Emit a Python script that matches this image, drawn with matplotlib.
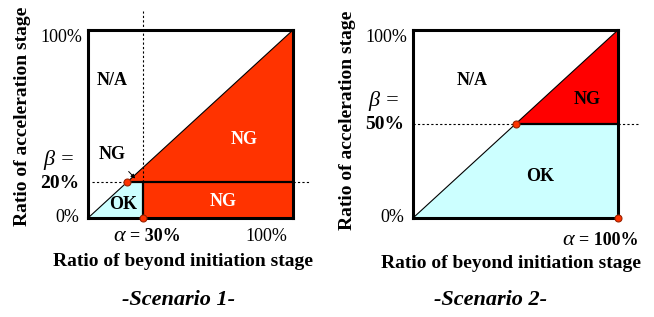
import matplotlib.pyplot as plt
from matplotlib.patches import Polygon

# values
scenarios = ["-Scenario 1-", "-Scenario 2-"]
alpha_vals = [0.27, 1.0]          # where alpha sits on the x axis
beta_vals = [0.19, 0.5]           # where beta sits on the y axis
alpha_labels = ["30%", "100%"]
beta_labels = ["20%", "50%"]
ng_colors = ["#ff3300", "#ff0000"]
ok_color = "#ccffff"

plt.rcParams['font.family'] = ['Liberation Serif', 'DejaVu Serif']

fig = plt.figure(figsize=(6.54, 3.17), dpi=100)
W, H = 654, 317
boxes = [(88, 30, 293, 218), (413, 30, 618, 218)]
ylab_pos = [(23, 116), (347, 120)]
xlab_pos = [(183, 262), (511, 263)]
title_pos = [(179, 300), (490, 300)]

bold = dict(fontweight='bold')
dot = (0, (2, 2))

for i, (x0, y0, x1, y1) in enumerate(boxes):
    ax = fig.add_axes([x0 / W, 1 - y1 / H, (x1 - x0) / W, (y1 - y0) / H])
    ax.set_xlim(0, 1)
    ax.set_ylim(0, 1)
    ax.set_xticks([])
    ax.set_yticks([])
    for s in ax.spines.values():
        s.set_linewidth(2.2)
        s.set_zorder(5)
    a = alpha_vals[i]
    b = beta_vals[i]

    # regions
    ax.add_patch(Polygon([(0, 0), (a, 0), (a, b), (b, b)], closed=True,
                         facecolor=ok_color, edgecolor='none', zorder=1))
    if a < 1:
        ng_pts = [(a, 0), (1, 0), (1, 1), (b, b), (a, b)]
    else:
        ng_pts = [(b, b), (1, 1), (1, b)]
    ax.add_patch(Polygon(ng_pts, closed=True, facecolor=ng_colors[i],
                         edgecolor='none', zorder=1))

    # diagonal
    ax.plot([0, 1], [0, 1], color='black', lw=0.8, zorder=3)

    # beta line
    ax.plot([0.02 if i == 0 else 0, b], [b, b], color='black', lw=0.8,
            linestyle=dot, zorder=3, clip_on=False)
    ax.plot([b, 1], [b, b], color='black', lw=1.6, zorder=3)
    ax.plot([1, 1.1 if i == 1 else 1.08], [b, b], color='black', lw=0.8,
            linestyle=dot, zorder=3, clip_on=False)

    # alpha line
    if a < 1:
        ax.plot([a, a], [b, 1.1], color='black', lw=0.8, linestyle=dot,
                zorder=3, clip_on=False)
        ax.plot([a, a], [0, b], color='black', lw=1.6, zorder=3)

    # points
    ax.plot([b, a], [b, 0], 'o', ms=5, mfc='#ff3300', mec='#992200',
            mew=0.8, zorder=6, clip_on=False)

    # axis texts
    fig.text(ylab_pos[i][0] / W, 1 - ylab_pos[i][1] / H,
             "Ratio of acceleration stage", fontsize=14, rotation=90,
             ha='center', va='center', **bold)
    fig.text(xlab_pos[i][0] / W, 1 - xlab_pos[i][1] / H,
             "Ratio of beyond initiation stage", fontsize=14,
             ha='center', va='center', **bold)
    fig.text(title_pos[i][0] / W, 1 - title_pos[i][1] / H, scenarios[i],
             fontsize=16, ha='center', va='center', fontweight='bold',
             fontstyle='italic')

    ax.text(-0.13, 0.96, "100%", fontsize=13, ha='center', va='center',
            transform=ax.transAxes)
    ax.text(-0.1, 0.0, "0%", fontsize=13, ha='center', va='center')
    ax.text(-0.14, b + 0.12, "β =", fontsize=16, ha='center', va='center',
            fontstyle='italic')
    ax.text(-0.14, b - 0.005, beta_labels[i], fontsize=14, ha='center',
            va='center', **bold)

    if i == 0:
        ax.text(0.18, -0.10, "α", fontsize=16, ha='right', va='center',
                fontstyle='italic')
        ax.text(0.205, -0.10, "= " + alpha_labels[i], fontsize=13,
                ha='left', va='center', **bold)
        ax.text(0.87, -0.10, "100%", fontsize=13, ha='center', va='center')
        ax.text(0.12, 0.73, "N/A", fontsize=13, ha='center', va='center', **bold)
        ax.text(0.76, 0.42, "NG", fontsize=13, ha='center', va='center',
                color='white', **bold)
        ax.text(0.66, 0.09, "NG", fontsize=13, ha='center', va='center',
                color='white', **bold)
        ax.text(0.17, 0.07, "OK", fontsize=13, ha='center', va='center', **bold)
        ax.annotate("NG", xy=(0.23, 0.21), xytext=(0.12, 0.34), fontsize=13,
                    ha='center', va='center', **bold,
                    arrowprops=dict(arrowstyle='-|>', lw=0.7, color='black',
                                    shrinkA=6, shrinkB=0, mutation_scale=6))
    else:
        ax.text(0.785, -0.12, "α", fontsize=16, ha='right', va='center',
                fontstyle='italic')
        ax.text(0.81, -0.12, "= " + alpha_labels[i], fontsize=13,
                ha='left', va='center', **bold)
        ax.text(0.29, 0.73, "N/A", fontsize=13, ha='center', va='center', **bold)
        ax.text(0.85, 0.63, "NG", fontsize=13, ha='center', va='center', **bold)
        ax.text(0.62, 0.22, "OK", fontsize=13, ha='center', va='center', **bold)

fig.savefig("out.png", dpi=100)
